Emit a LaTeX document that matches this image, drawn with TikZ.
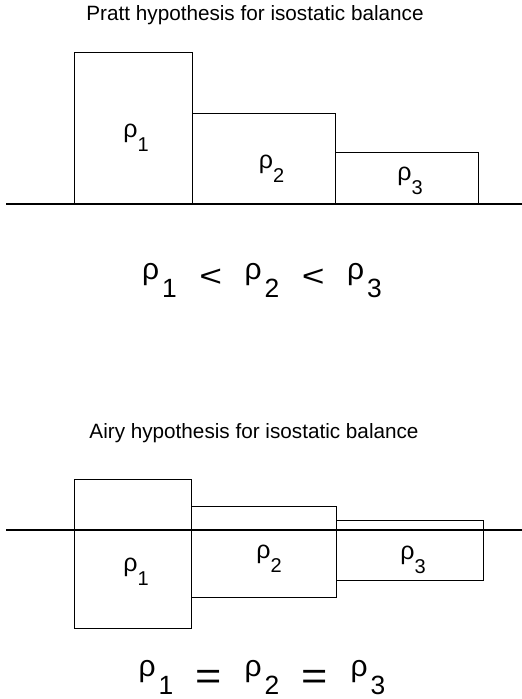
\documentclass[tikz,border=0pt]{standalone}
\usepackage{fontspec}
\setmainfont{Liberation Sans}
\usepackage{graphicx}
% density symbol with a lowered subscript (box labels)
\newcommand\dens[1]{ρ\raisebox{-0.56em}{\scalebox{0.8}{#1}}}
% density symbol with a lowered subscript (relations)
\newcommand\densb[1]{ρ\kern0.1em\raisebox{-0.6em}{\scalebox{0.88}{#1}}}
% relation signs, set low and wide
\newcommand\lessrel{\raisebox{-0.24em}{\scalebox{1.3}[1]{<}}}
\newcommand\eqrel{\raisebox{-0.43em}{\scalebox{1.5}[1.3]{=}}}
\newcommand\gap{\hspace{0.75em}}
\begin{document}
\begin{tikzpicture}[x=1pt,y=-1pt,
  block/.style={draw,line width=1.4pt,inner sep=0pt,anchor=north west},
  title/.style={font=\fontsize{20.7}{24}\selectfont,anchor=base},
  sym/.style={font=\fontsize{25}{28}\selectfont,inner sep=0pt},
  eqn/.style={font=\fontsize{30}{34}\selectfont,inner sep=0pt},
  level/.style={line width=1.4pt}]
\useasboundingbox (0,0) rectangle (522,699);

% ---- Pratt ----
\node[title] (ptitle) at (255,20) {Pratt hypothesis for isostatic balance};
\coordinate (pl) at (6,204);
\coordinate (pr) at (522,204);
\draw[level] (pl) -- (pr);
\node[block,minimum width=118pt,minimum height=152pt] (pa) at (74,52) {};
\node[block,minimum width=143pt,minimum height=91pt] (pb) at (192,113) {};
\node[block,minimum width=143pt,minimum height=52pt] (pc) at (335,152) {};
\node[sym] (pa1) at (136,138) {\dens{1}};
\node[sym] (pb1) at (271.5,168.5) {\dens{2}};
\node[sym] (pc1) at (410,181) {\dens{3}};
\node[eqn] (peq) at (262,280.5) {\densb{1}\gap\lessrel\gap\densb{2}\gap\lessrel\gap\densb{3}};

% ---- Airy ----
\node[title] (atitle) at (254,438) {Airy hypothesis for isostatic balance};
\node[block,minimum width=117pt,minimum height=149pt] (aa) at (74,479) {};
\node[block,minimum width=145pt,minimum height=91pt] (ab) at (191,506) {};
\node[block,minimum width=147pt,minimum height=60pt] (ac) at (336,520) {};
\coordinate (al) at (6,530);
\coordinate (ar) at (522,530);
\draw[level] (al) -- (ar);
\node[sym] (aa1) at (136,572) {\dens{1}};
\node[sym] (ab1) at (269,559) {\dens{2}};
\node[sym] (ac1) at (413,560) {\dens{3}};
\node[eqn] (aeq) at (262,677.5) {\densb{1}\gap\eqrel\gap\densb{2}\gap\eqrel\gap\densb{3}};
\end{tikzpicture}
\end{document}
